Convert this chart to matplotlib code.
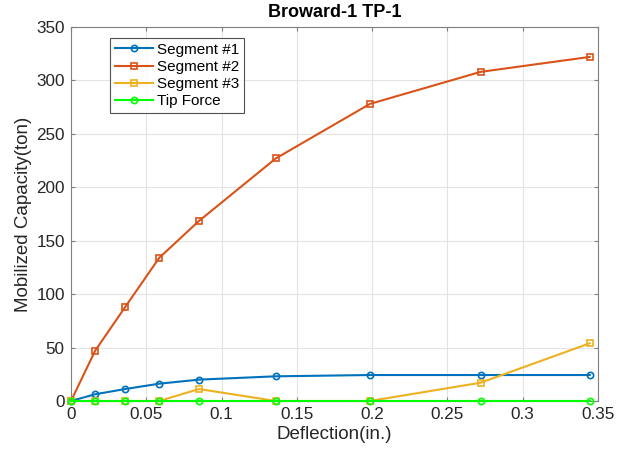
import matplotlib
matplotlib.use("Agg")
import matplotlib.pyplot as plt

plt.rcParams['font.family'] = ['Liberation Sans', 'DejaVu Sans']

deflection = [0, 0.016, 0.036, 0.0586, 0.085, 0.136, 0.1985, 0.272, 0.3445]
segment1 = [0, 6.3, 11.2, 16.2, 20.0, 23.1, 24.3, 24.3, 24.3]
segment2 = [0, 47, 88, 134, 168.5, 227, 278, 308, 322]
segment3 = [0, 0, 0, 0, 11.2, 0, 0, 17.1, 54]
tip_force = [0, 0, 0, 0, 0, 0, 0, 0, 0]

series = [
    ("Segment #1", segment1, "#0072BD", "o"),
    ("Segment #2", segment2, "#D95319", "s"),
    ("Segment #3", segment3, "#EDB120", "s"),
    ("Tip Force", tip_force, "#00FF00", "o"),
]

fig = plt.figure(figsize=(6.25, 4.55), dpi=100)
ax = fig.add_axes([71/625, 1 - 401/455, (598-71)/625, (401-27)/455])

for name, vals, col, mk in series:
    ax.plot(deflection, vals, color=col, marker=mk, markersize=4.5,
            markerfacecolor='none', markeredgewidth=1.2, linewidth=1.5,
            label=name, clip_on=False, zorder=3)

ax.set_xlim(0, 0.35)
ax.set_ylim(0, 350)
ax.set_xticks([0, 0.05, 0.1, 0.15, 0.2, 0.25, 0.3, 0.35])
ax.set_xticklabels(["0", "0.05", "0.1", "0.15", "0.2", "0.25", "0.3", "0.35"])
ax.set_yticks(range(0, 351, 50))
ax.grid(True, color='#e3e3e3', linewidth=0.8)
ax.set_axisbelow(True)
for s in ax.spines.values():
    s.set_color('#7f7f7f')
    s.set_linewidth(0.8)
ax.tick_params(direction='in', colors='#262626', labelsize=12.3, length=3,
               top=True, right=True, labeltop=False, labelright=False, pad=4.5)
ax.tick_params(axis='both', which='both', color='#7f7f7f')

ax.set_xlabel("Deflection(in.)", fontsize=13.5, color='#262626', labelpad=3)
ax.set_ylabel("Mobilized Capacity(ton)", fontsize=13.5, color='#262626', labelpad=3)
ax.set_title("Broward-1 TP-1", fontsize=13, fontweight='bold', pad=7)

leg = ax.legend(loc='upper left', bbox_to_anchor=(0.074, 0.97), fontsize=11,
                frameon=True, fancybox=False, edgecolor='#262626',
                borderpad=0.3, labelspacing=0.2, handlelength=2.5,
                handletextpad=0.27, borderaxespad=0)
leg.get_frame().set_linewidth(0.8)

fig.savefig("out.png", dpi=100)
